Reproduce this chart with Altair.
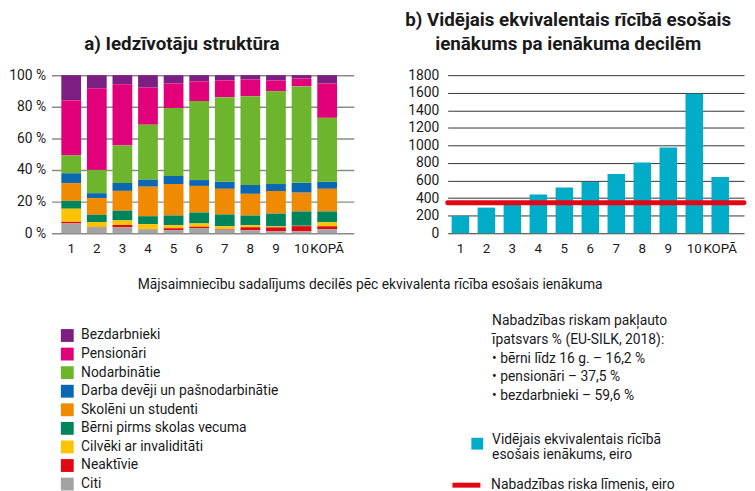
import altair as alt
import pandas as pd

deciles = ["1", "2", "3", "4", "5", "6", "7", "8", "9", "10", "KOPĀ"]
groups = ["Bezdarbnieki", "Pensionāri", "Nodarbinātie", "Darba devēji un pašnodarbinātie",
          "Skolēni un studenti", "Bērni pirms skolas vecuma", "Cilvēki ar invaliditāti",
          "Neaktīvie", "Citi"]
colors = ["#7b1f82", "#e2007a", "#6cb52d", "#0a67b2", "#f08a00", "#00845c", "#fcc300",
          "#e30613", "#a3a3a3"]

# shares (%) of each group per decile
bezdarbnieki = [15.8, 8.3, 5.8, 7.9, 5.2, 3.9, 3.3, 2.7, 3.3, 2.1, 5.2]
pensionari = [35.0, 51.8, 38.7, 23.5, 15.6, 12.5, 10.6, 10.6, 6.9, 5.0, 21.8]
nodarbinatie = [11.2, 14.8, 23.7, 34.9, 43.0, 49.9, 53.6, 56.1, 58.6, 61.1, 40.5]
darba_deveji = [6.2, 3.1, 5.0, 4.4, 5.0, 3.7, 4.4, 5.6, 4.4, 6.2, 4.4]
skoleni = [11.2, 10.6, 12.5, 18.7, 20.0, 16.8, 16.2, 13.7, 14.3, 11.9, 14.3]
berni = [5.0, 4.6, 6.2, 5.0, 6.2, 6.9, 7.5, 6.2, 8.1, 9.1, 6.9]
invalidi = [8.3, 3.1, 2.9, 3.1, 1.9, 2.1, 1.7, 1.2, 0.6, 0.2, 2.5]
neaktivie = [1.0, 0.3, 1.5, 0.2, 1.2, 1.0, 0.4, 1.9, 2.5, 3.3, 1.9]
citi = [6.2, 3.7, 3.7, 2.5, 1.9, 3.1, 2.3, 1.9, 1.2, 1.2, 2.5]

income = [198, 292, 330, 442, 520, 584, 674, 805, 977, 1587, 640]
poverty_line = 347

income_label = "Vidējais ekvivalentais rīcībā|esošais ienākums, eiro"
poverty_label = "Nabadzības riska līmenis, eiro"
risk_lines = ["Nabadzības riskam pakļauto",
              "īpatsvars % (EU-SILK, 2018):",
              "• bērni līdz 16 g. – 16,2 %",
              "• pensionāri – 37,5 %",
              "• bezdarbnieki – 59,6 %"]
note = "Mājsaimniecību sadalījums decilēs pēc ekvivalenta rīcība esošais ienākuma"
title_a = "a) Iedzīvotāju struktūra"
title_b = ["b) Vidējais ekvivalentais rīcībā esošais", "ienākums pa ienākuma decilēm"]

TEAL = "#00acc8"
RED = "#e30613"
FONT = "Roboto"

series = [bezdarbnieki, pensionari, nodarbinatie, darba_deveji, skoleni, berni,
          invalidi, neaktivie, citi]
rows = []
for gi, (g, vals) in enumerate(zip(groups, series)):
    for d, v in zip(deciles, vals):
        rows.append({"decile": d, "group": g, "idx": gi, "value": v})
df_struct = pd.DataFrame(rows)

df_income = pd.DataFrame({"decile": deciles, "income": income,
                          "label": [income_label] * len(deciles)})
df_pov = pd.DataFrame({"y": [poverty_line], "s": [poverty_label]})
df_text = pd.DataFrame({"t": ["\n".join(risk_lines)]})

left = alt.Chart(df_struct).mark_bar().encode(
    x=alt.X("decile:N", sort=deciles,
            scale=alt.Scale(paddingInner=0.228, paddingOuter=0.52, align=0.37),
            axis=alt.Axis(title=note, titleX=322, titleY=52, titleBaseline="middle",
                          titleAlign="center", titleFontWeight="normal", titleFontSize=14,
                          titleFont=FONT, labelAngle=0, ticks=False, domain=False,
                          labelPadding=9, labelOverlap=False, labelFontSize=13.5)),
    y=alt.Y("value:Q", stack="normalize",
            scale=alt.Scale(domain=[0, 1], nice=False),
            axis=alt.Axis(title=None, values=[0, 0.2, 0.4, 0.6, 0.8, 1.0],
                          labelExpr="format(datum.value*100, 'd') + ' %'",
                          domain=False, ticks=False, gridColor="#8a8a8a", gridWidth=1.5,
                          labelPadding=6, labelOverlap=False)),
    color=alt.Color("group:N", scale=alt.Scale(domain=groups, range=colors),
                    legend=alt.Legend(orient="none", legendX=9, legendY=256.5, title=None,
                                      symbolType="square", symbolSize=169,
                                      symbolStrokeWidth=0, labelFontSize=14,
                                      labelFont=FONT, rowPadding=4.8, labelOffset=7,
                                      labelLimit=0)),
    order=alt.Order("idx:Q", sort="descending"),
).properties(
    width=306, height=160,
    title=alt.TitleParams(title_a, fontSize=19, fontWeight="bold", font=FONT,
                          anchor="middle", dx=-21, offset=-5, baseline="bottom",
                          lineHeight=25, frame="group"),
)

y_income_axis = alt.Axis(title=None, values=list(range(0, 1801, 200)), format="d",
                         domain=False, ticks=False, gridColor="#333333", gridWidth=1,
                         labelPadding=9, labelOverlap=False)

bars = alt.Chart(df_income).mark_bar().encode(
    x=alt.X("decile:N", sort=deciles,
            scale=alt.Scale(paddingInner=0.327, paddingOuter=0.367, align=0.21),
            axis=alt.Axis(title=None, labelAngle=0, ticks=False, domain=False,
                          labelPadding=9, labelOverlap=False, labelFontSize=13.5)),
    y=alt.Y("income:Q", scale=alt.Scale(domain=[0, 1800], nice=False),
            axis=y_income_axis),
    fill=alt.Fill("label:N", scale=alt.Scale(range=[TEAL]),
                  legend=alt.Legend(orient="none", legendX=23, legendY=366, title=None,
                                    symbolType="square", symbolSize=144,
                                    symbolStrokeWidth=0, labelFontSize=14,
                                    labelFont=FONT, labelOffset=8,
                                    labelBaseline="alphabetic", labelLimit=0,
                                    labelExpr="split(datum.label, '|')")),
)

rule = alt.Chart(df_pov).mark_rule(strokeWidth=5, strokeCap="round").encode(
    y=alt.Y("y:Q", scale=alt.Scale(domain=[0, 1800], nice=False), axis=y_income_axis),
    stroke=alt.Stroke("s:N", scale=alt.Scale(range=[RED]),
                      legend=alt.Legend(orient="none", legendX=2, legendY=398, title=None,
                                        symbolType="stroke", symbolStrokeWidth=5,
                                        symbolSize=800, labelFontSize=14,
                                        labelFont=FONT, labelOffset=8, labelLimit=0)),
)

txt = alt.Chart(df_text).mark_text(align="left", baseline="top", lineBreak="\n",
                                   fontSize=14, lineHeight=19, font=FONT,
                                   color="#1a1a1a").encode(
    text="t:N", x=alt.value(45), y=alt.value(242))

right = alt.layer(bars, rule, txt).properties(
    width=300, height=160,
    title=alt.TitleParams(title_b, fontSize=19, fontWeight="bold", font=FONT,
                          anchor="middle", dx=-28, offset=-5, baseline="bottom",
                          lineHeight=25, frame="group"),
)

chart = alt.hconcat(left, right, spacing=95, bounds="flush").resolve_scale(
    color="independent", fill="independent", stroke="independent"
).properties(
    padding={"left": 0, "top": 0, "right": 0, "bottom": 0}
).configure_view(stroke=None).configure_axis(
    labelFont=FONT, labelFontSize=14, labelColor="#1a1a1a", titleColor="#1a1a1a"
).configure_legend(labelColor="#1a1a1a").configure_title(color="#1a1a1a")

chart.save("out.html", embed_options={"renderer": "svg", "actions": False})
